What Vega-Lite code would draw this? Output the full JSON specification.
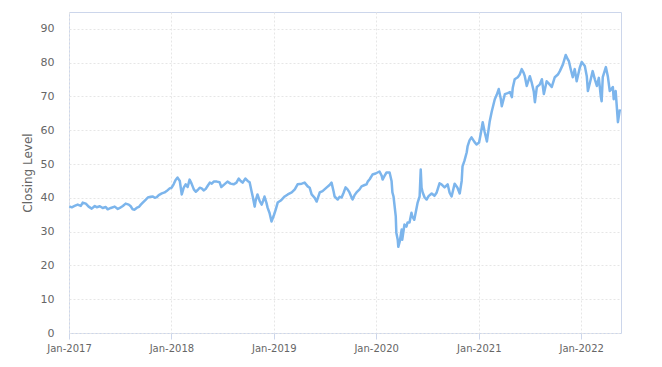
{
  "$schema": "https://vega.github.io/schema/vega-lite/v6.json",
  "width": 552,
  "height": 321,
  "autosize": {"type": "none"},
  "padding": {"left": 69, "top": 12, "right": 41, "bottom": 34},
  "background": "white",
  "config": {
    "view": {"stroke": "#ccd6eb", "strokeWidth": 1},
    "font": "DejaVu Sans",
    "axis": {
      "labelFont": "DejaVu Sans",
      "titleFont": "DejaVu Sans",
      "labelColor": "#666666",
      "titleColor": "#666666",
      "labelFontSize": 11,
      "titleFontSize": 12,
      "titleFontWeight": "normal",
      "gridColor": "#e6e6e6",
      "gridDash": [2, 2],
      "domain": false
    }
  },
  "data": {
    "values": [
      {"date": "2017-01-02", "close": 37.5},
      {"date": "2017-01-11", "close": 37.2},
      {"date": "2017-01-21", "close": 37.6},
      {"date": "2017-02-01", "close": 38.0},
      {"date": "2017-02-12", "close": 37.6},
      {"date": "2017-02-19", "close": 38.6},
      {"date": "2017-03-02", "close": 38.3},
      {"date": "2017-03-12", "close": 37.4},
      {"date": "2017-03-23", "close": 36.8},
      {"date": "2017-04-03", "close": 37.6},
      {"date": "2017-04-10", "close": 37.2},
      {"date": "2017-04-21", "close": 37.5},
      {"date": "2017-05-01", "close": 37.0},
      {"date": "2017-05-12", "close": 37.3},
      {"date": "2017-05-19", "close": 36.6},
      {"date": "2017-05-30", "close": 37.0},
      {"date": "2017-06-13", "close": 37.4},
      {"date": "2017-06-24", "close": 36.7},
      {"date": "2017-07-01", "close": 37.0},
      {"date": "2017-07-12", "close": 37.6},
      {"date": "2017-07-22", "close": 38.3},
      {"date": "2017-08-02", "close": 38.0},
      {"date": "2017-08-09", "close": 37.5},
      {"date": "2017-08-16", "close": 36.6},
      {"date": "2017-08-23", "close": 36.5},
      {"date": "2017-08-30", "close": 37.0},
      {"date": "2017-09-07", "close": 37.3},
      {"date": "2017-09-14", "close": 38.0},
      {"date": "2017-09-21", "close": 38.6},
      {"date": "2017-10-02", "close": 39.5},
      {"date": "2017-10-09", "close": 40.1},
      {"date": "2017-10-19", "close": 40.3},
      {"date": "2017-10-27", "close": 40.4},
      {"date": "2017-11-03", "close": 40.0},
      {"date": "2017-11-10", "close": 40.2},
      {"date": "2017-11-17", "close": 40.8},
      {"date": "2017-11-28", "close": 41.3},
      {"date": "2017-12-08", "close": 41.6},
      {"date": "2017-12-15", "close": 42.0},
      {"date": "2017-12-26", "close": 42.8},
      {"date": "2018-01-02", "close": 43.0},
      {"date": "2018-01-09", "close": 44.0},
      {"date": "2018-01-16", "close": 45.3},
      {"date": "2018-01-23", "close": 46.0},
      {"date": "2018-01-31", "close": 45.0},
      {"date": "2018-02-07", "close": 41.0},
      {"date": "2018-02-14", "close": 43.0},
      {"date": "2018-02-21", "close": 44.0},
      {"date": "2018-02-28", "close": 43.2},
      {"date": "2018-03-07", "close": 45.4},
      {"date": "2018-03-14", "close": 44.2},
      {"date": "2018-03-22", "close": 42.5},
      {"date": "2018-03-29", "close": 41.8},
      {"date": "2018-04-05", "close": 42.3},
      {"date": "2018-04-12", "close": 43.0},
      {"date": "2018-04-19", "close": 42.8},
      {"date": "2018-04-26", "close": 42.2},
      {"date": "2018-05-03", "close": 42.6},
      {"date": "2018-05-10", "close": 43.5},
      {"date": "2018-05-18", "close": 44.5},
      {"date": "2018-05-25", "close": 44.2},
      {"date": "2018-06-01", "close": 44.8},
      {"date": "2018-06-12", "close": 44.8},
      {"date": "2018-06-22", "close": 44.6},
      {"date": "2018-06-28", "close": 43.2},
      {"date": "2018-07-09", "close": 44.0},
      {"date": "2018-07-20", "close": 44.8},
      {"date": "2018-07-31", "close": 44.2},
      {"date": "2018-08-11", "close": 44.0},
      {"date": "2018-08-21", "close": 44.5},
      {"date": "2018-08-29", "close": 45.7},
      {"date": "2018-09-05", "close": 45.0},
      {"date": "2018-09-12", "close": 44.5},
      {"date": "2018-09-22", "close": 45.7},
      {"date": "2018-09-30", "close": 45.0},
      {"date": "2018-10-07", "close": 44.6},
      {"date": "2018-10-14", "close": 41.9},
      {"date": "2018-10-18", "close": 40.4},
      {"date": "2018-10-25", "close": 37.4},
      {"date": "2018-10-28", "close": 39.0},
      {"date": "2018-11-04", "close": 41.0},
      {"date": "2018-11-12", "close": 39.0},
      {"date": "2018-11-19", "close": 38.0},
      {"date": "2018-11-26", "close": 39.5},
      {"date": "2018-11-29", "close": 40.4},
      {"date": "2018-12-06", "close": 38.5},
      {"date": "2018-12-10", "close": 37.1},
      {"date": "2018-12-17", "close": 35.5},
      {"date": "2018-12-24", "close": 33.0},
      {"date": "2019-01-02", "close": 35.0},
      {"date": "2019-01-08", "close": 36.5},
      {"date": "2019-01-15", "close": 38.6},
      {"date": "2019-01-26", "close": 39.2},
      {"date": "2019-02-09", "close": 40.4},
      {"date": "2019-02-20", "close": 41.0},
      {"date": "2019-03-06", "close": 41.6},
      {"date": "2019-03-17", "close": 42.5},
      {"date": "2019-03-27", "close": 44.0},
      {"date": "2019-04-11", "close": 44.2},
      {"date": "2019-04-21", "close": 44.5},
      {"date": "2019-05-02", "close": 43.4},
      {"date": "2019-05-09", "close": 43.0},
      {"date": "2019-05-16", "close": 41.0},
      {"date": "2019-05-27", "close": 40.0},
      {"date": "2019-06-03", "close": 38.9},
      {"date": "2019-06-14", "close": 41.6},
      {"date": "2019-06-24", "close": 42.0},
      {"date": "2019-07-09", "close": 43.1},
      {"date": "2019-07-19", "close": 43.8},
      {"date": "2019-07-26", "close": 44.5},
      {"date": "2019-08-02", "close": 42.0},
      {"date": "2019-08-06", "close": 40.4},
      {"date": "2019-08-17", "close": 39.5},
      {"date": "2019-08-24", "close": 40.3},
      {"date": "2019-08-31", "close": 40.1},
      {"date": "2019-09-07", "close": 41.5},
      {"date": "2019-09-14", "close": 43.1},
      {"date": "2019-09-21", "close": 42.5},
      {"date": "2019-09-28", "close": 41.6},
      {"date": "2019-10-06", "close": 40.0},
      {"date": "2019-10-09", "close": 39.5},
      {"date": "2019-10-16", "close": 40.8},
      {"date": "2019-10-23", "close": 41.6},
      {"date": "2019-11-03", "close": 42.5},
      {"date": "2019-11-10", "close": 43.4},
      {"date": "2019-11-21", "close": 43.8},
      {"date": "2019-11-28", "close": 44.0},
      {"date": "2019-12-02", "close": 44.8},
      {"date": "2019-12-09", "close": 45.5},
      {"date": "2019-12-19", "close": 46.9},
      {"date": "2019-12-30", "close": 47.2},
      {"date": "2020-01-06", "close": 47.5},
      {"date": "2020-01-13", "close": 47.8},
      {"date": "2020-01-21", "close": 46.5},
      {"date": "2020-01-24", "close": 45.4},
      {"date": "2020-01-31", "close": 46.5},
      {"date": "2020-02-07", "close": 47.5},
      {"date": "2020-02-18", "close": 47.5},
      {"date": "2020-02-25", "close": 45.0},
      {"date": "2020-02-28", "close": 41.6},
      {"date": "2020-03-03", "close": 40.4},
      {"date": "2020-03-11", "close": 34.5},
      {"date": "2020-03-13", "close": 29.7},
      {"date": "2020-03-18", "close": 27.6},
      {"date": "2020-03-20", "close": 25.5},
      {"date": "2020-03-25", "close": 27.0},
      {"date": "2020-04-01", "close": 30.6},
      {"date": "2020-04-03", "close": 27.6},
      {"date": "2020-04-11", "close": 32.1},
      {"date": "2020-04-18", "close": 31.5},
      {"date": "2020-04-22", "close": 32.7},
      {"date": "2020-04-29", "close": 32.7},
      {"date": "2020-05-06", "close": 35.6},
      {"date": "2020-05-09", "close": 34.5},
      {"date": "2020-05-16", "close": 33.5},
      {"date": "2020-05-23", "close": 36.5},
      {"date": "2020-05-28", "close": 38.6},
      {"date": "2020-06-04", "close": 40.4},
      {"date": "2020-06-08", "close": 48.4},
      {"date": "2020-06-11", "close": 43.0},
      {"date": "2020-06-15", "close": 41.6},
      {"date": "2020-06-22", "close": 40.1},
      {"date": "2020-06-29", "close": 39.5},
      {"date": "2020-07-06", "close": 40.5},
      {"date": "2020-07-17", "close": 41.3},
      {"date": "2020-07-27", "close": 40.6},
      {"date": "2020-08-04", "close": 41.6},
      {"date": "2020-08-14", "close": 44.3},
      {"date": "2020-08-21", "close": 44.0},
      {"date": "2020-09-01", "close": 43.1},
      {"date": "2020-09-12", "close": 44.0},
      {"date": "2020-09-19", "close": 41.5},
      {"date": "2020-09-26", "close": 40.4},
      {"date": "2020-10-07", "close": 44.2},
      {"date": "2020-10-17", "close": 43.0},
      {"date": "2020-10-25", "close": 41.3},
      {"date": "2020-11-01", "close": 45.0},
      {"date": "2020-11-04", "close": 49.3},
      {"date": "2020-11-11", "close": 51.0},
      {"date": "2020-11-19", "close": 53.5},
      {"date": "2020-11-22", "close": 55.2},
      {"date": "2020-11-29", "close": 57.0},
      {"date": "2020-12-06", "close": 57.9},
      {"date": "2020-12-17", "close": 56.5},
      {"date": "2020-12-24", "close": 55.8},
      {"date": "2021-01-02", "close": 56.4},
      {"date": "2021-01-08", "close": 59.0},
      {"date": "2021-01-15", "close": 62.4},
      {"date": "2021-01-22", "close": 59.5},
      {"date": "2021-01-30", "close": 56.7},
      {"date": "2021-02-09", "close": 62.7},
      {"date": "2021-02-16", "close": 65.5},
      {"date": "2021-02-27", "close": 69.2},
      {"date": "2021-03-06", "close": 70.5},
      {"date": "2021-03-13", "close": 72.2},
      {"date": "2021-03-20", "close": 69.5},
      {"date": "2021-03-24", "close": 67.1},
      {"date": "2021-04-04", "close": 70.7},
      {"date": "2021-04-14", "close": 71.0},
      {"date": "2021-04-22", "close": 71.3},
      {"date": "2021-04-29", "close": 69.8},
      {"date": "2021-05-02", "close": 72.5},
      {"date": "2021-05-09", "close": 75.1},
      {"date": "2021-05-20", "close": 75.7},
      {"date": "2021-05-27", "close": 76.5},
      {"date": "2021-06-03", "close": 78.1},
      {"date": "2021-06-10", "close": 77.0},
      {"date": "2021-06-14", "close": 76.0},
      {"date": "2021-06-21", "close": 73.1},
      {"date": "2021-07-02", "close": 76.0},
      {"date": "2021-07-09", "close": 74.0},
      {"date": "2021-07-16", "close": 71.5},
      {"date": "2021-07-20", "close": 68.3},
      {"date": "2021-07-27", "close": 72.8},
      {"date": "2021-08-06", "close": 73.5},
      {"date": "2021-08-14", "close": 75.1},
      {"date": "2021-08-21", "close": 70.7},
      {"date": "2021-08-31", "close": 74.5},
      {"date": "2021-09-08", "close": 73.8},
      {"date": "2021-09-18", "close": 72.8},
      {"date": "2021-09-29", "close": 75.7},
      {"date": "2021-10-10", "close": 76.5},
      {"date": "2021-10-17", "close": 77.5},
      {"date": "2021-10-28", "close": 79.5},
      {"date": "2021-11-07", "close": 82.3},
      {"date": "2021-11-14", "close": 81.0},
      {"date": "2021-11-18", "close": 80.5},
      {"date": "2021-11-25", "close": 78.0},
      {"date": "2021-12-02", "close": 75.7},
      {"date": "2021-12-09", "close": 78.1},
      {"date": "2021-12-16", "close": 74.5},
      {"date": "2021-12-27", "close": 78.5},
      {"date": "2022-01-03", "close": 80.2},
      {"date": "2022-01-14", "close": 79.0},
      {"date": "2022-01-21", "close": 76.0},
      {"date": "2022-01-25", "close": 71.6},
      {"date": "2022-02-01", "close": 74.0},
      {"date": "2022-02-11", "close": 77.5},
      {"date": "2022-02-19", "close": 75.0},
      {"date": "2022-02-26", "close": 73.1},
      {"date": "2022-03-05", "close": 75.5},
      {"date": "2022-03-12", "close": 70.0},
      {"date": "2022-03-15", "close": 68.6},
      {"date": "2022-03-19", "close": 75.7},
      {"date": "2022-03-30", "close": 78.7},
      {"date": "2022-04-06", "close": 76.0},
      {"date": "2022-04-13", "close": 71.6},
      {"date": "2022-04-24", "close": 72.8},
      {"date": "2022-04-27", "close": 69.2},
      {"date": "2022-05-04", "close": 71.6},
      {"date": "2022-05-08", "close": 67.0},
      {"date": "2022-05-12", "close": 62.4},
      {"date": "2022-05-19", "close": 66.2}
    ]
  },
  "mark": {"type": "line", "color": "#7cb5ec", "strokeWidth": 2.5, "interpolate": "linear", "strokeJoin": "round"},
  "encoding": {
    "x": {
      "field": "date",
      "type": "temporal",
      "scale": {"domain": ["2017-01-01T00:00:00", "2022-05-23T00:00:00"], "nice": false},
      "axis": {
        "title": null,
        "format": "%b-%Y",
        "tickCount": {"interval": "year", "step": 1},
        "tickColor": "#ccd6eb",
        "tickSize": 6,
        "labelFontSize": 10,
        "labelPadding": 4,
        "labelFlush": false,
        "labelOverlap": false
      }
    },
    "y": {
      "field": "close",
      "type": "quantitative",
      "scale": {"domain": [0, 95], "nice": false, "zero": true},
      "axis": {
        "title": "Closing Level",
        "values": [0, 10, 20, 30, 40, 50, 60, 70, 80, 90],
        "ticks": false,
        "labelPadding": 15,
        "titlePadding": 6
      }
    }
  }
}
